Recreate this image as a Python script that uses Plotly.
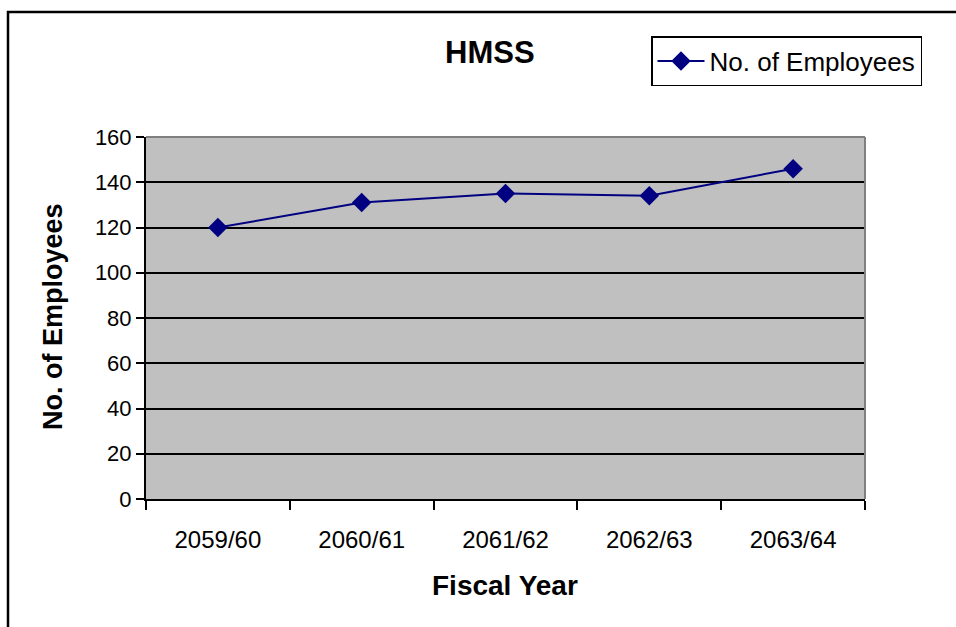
import plotly.graph_objects as go

# Staff headcount by fiscal year
fiscal_years = ["2059/60", "2060/61", "2061/62", "2062/63", "2063/64"]
employees = [120, 131, 135, 134, 146]
y_ticks = [0, 20, 40, 60, 80, 100, 120, 140, 160]

NAVY = "#000080"
FONT = "Arial, Liberation Sans, sans-serif"

L, R, T, B = 146, 91, 137, 128
W, H = 956, 627
pw, ph = W - L - R, H - T - B


def px_x(x):
    return (x - L) / pw


def px_y(y):
    return (H - B - y) / ph


fig = go.Figure()
fig.add_trace(go.Scatter(
    x=fiscal_years,
    y=employees,
    mode="lines+markers",
    name="No. of Employees",
    line=dict(color=NAVY, width=2),
    marker=dict(symbol="diamond", size=15, color=NAVY),
))

fig.update_layout(
    width=W,
    height=H,
    margin=dict(l=L, r=R, t=T, b=B),
    paper_bgcolor="white",
    plot_bgcolor="#C0C0C0",
    font=dict(family=FONT, color="black"),
    showlegend=True,
    legend=dict(
        x=px_x(651), y=px_y(36), xanchor="left", yanchor="top",
        bgcolor="white", bordercolor="black", borderwidth=1.5,
        font=dict(size=26, family=FONT),
        itemwidth=47,
    ),
    xaxis=dict(
        type="category",
        range=[-0.5, len(fiscal_years) - 0.5],
        showgrid=False,
        showline=True, linecolor="black", linewidth=2,
        ticks="outside", tickson="boundaries", ticklen=9,
        tickcolor="black", tickwidth=1.5,
        tickfont=dict(size=24, family=FONT),
        ticklabelstandoff=18,
        zeroline=False,
    ),
    yaxis=dict(
        range=[0, 160],
        tickvals=y_ticks,
        showgrid=True, gridcolor="black", gridwidth=2,
        showline=True, linecolor="black", linewidth=2,
        ticks="outside", ticklen=8, tickcolor="black", tickwidth=1.5,
        tickfont=dict(size=22, family=FONT),
        zeroline=False,
    ),
    annotations=[
        dict(text="<b>HMSS</b>", x=px_x(490), y=px_y(53),
             font=dict(size=31, family=FONT)),
        dict(text="<b>No. of Employees</b>", x=px_x(53), y=px_y(317),
             textangle=-90, font=dict(size=27, family=FONT)),
        dict(text="<b>Fiscal Year</b>", x=px_x(505), y=px_y(585),
             font=dict(size=28, family=FONT)),
    ],
)
fig.update_annotations(xref="paper", yref="paper", showarrow=False,
                       xanchor="center", yanchor="middle")

# Gray frame on the top and right of the plot area, outer chart border
fig.add_shape(type="line", xref="paper", yref="paper", x0=0, x1=1, y0=1, y1=1,
              line=dict(color="#808080", width=2))
fig.add_shape(type="line", xref="paper", yref="paper", x0=1, x1=1, y0=0, y1=1,
              line=dict(color="#808080", width=2))
fig.add_shape(type="rect", xref="paper", yref="paper",
              x0=px_x(8), x1=px_x(980), y0=px_y(660), y1=px_y(12),
              line=dict(color="black", width=2.5), fillcolor="rgba(0,0,0,0)")

fig.write_html("out.html")
